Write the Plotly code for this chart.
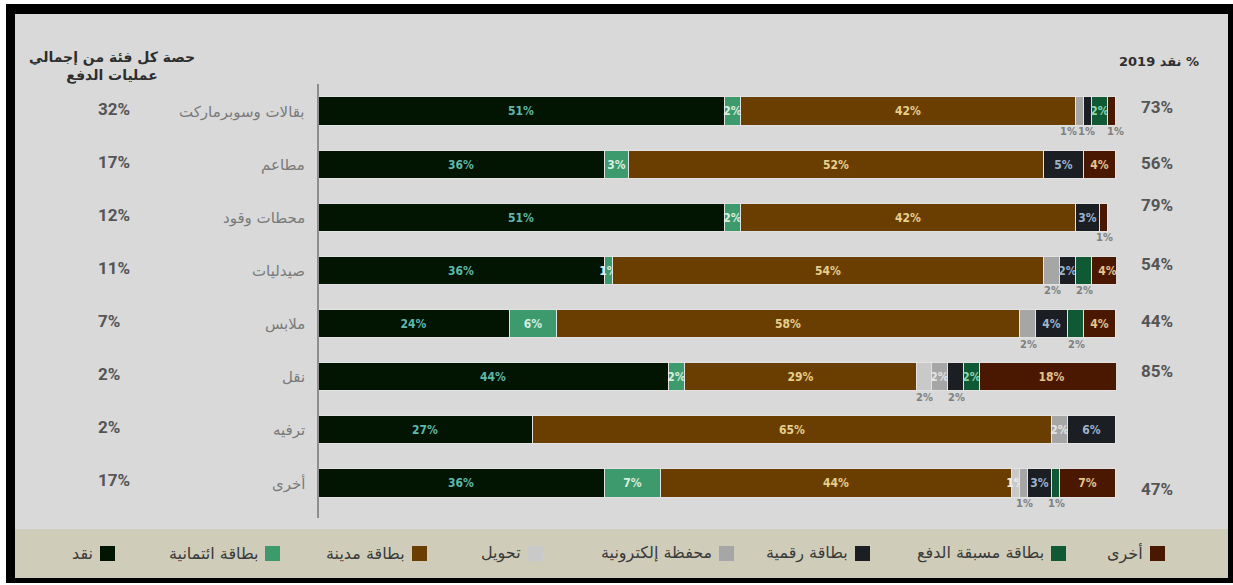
import plotly.graph_objects as go

# ---- data -------------------------------------------------------------
categories = ["بقالات وسوبرماركت", "مطاعم", "محطات وقود", "صيدليات",
              "ملابس", "نقل", "ترفيه", "أخرى"]
share_of_payments = [32, 17, 12, 11, 7, 2, 2, 17]
cash_share_2019 = [73, 56, 79, 54, 44, 85, None, 47]

series_names = ["نقد", "بطاقة ائتمانية", "بطاقة مدينة", "تحويل",
                "محفظة إلكترونية", "بطاقة رقمية", "بطاقة مسبقة الدفع", "أخرى"]
cash = [51, 36, 51, 36, 24, 44, 27, 36]
credit_card = [2, 3, 2, 1, 6, 2, 0, 7]
debit_card = [42, 52, 42, 54, 58, 29, 65, 44]
transfer = [0, 0, 0, 0, 0, 2, 0, 1]
e_wallet = [1, 0, 0, 2, 2, 2, 2, 1]
digital_card = [1, 5, 3, 2, 4, 2, 6, 3]
prepaid_card = [2, 0, 0, 2, 2, 2, 0, 1]
other = [1, 4, 1, 4, 4, 18, 0, 7]

series_values = [cash, credit_card, debit_card, transfer, e_wallet,
                 digital_card, prepaid_card, other]

# small segments whose value is written under the bar: (row, series index)
labels_below = [(0, 4), (0, 5), (0, 7), (2, 7), (3, 4), (3, 6),
                (4, 4), (4, 6), (5, 3), (5, 5), (7, 4), (7, 6)]

# ---- styling ----------------------------------------------------------
colors = ["#021402", "#3c9a6c", "#6a3e00", "#c9c9c9",
          "#a6a6a6", "#1b1e22", "#0f5a34", "#4a1700"]
text_colors = ["#5fb8aa", "#d6efe2", "#e6cf8e", "#eeeeee",
               "#e4e4e4", "#9fb4cc", "#8fd6aa", "#e6c48a"]
below_shift = {(0, 4): -12, (0, 5): -2, (0, 7): 3}
cash_label_shift = [5, 2, 13, 7, 3, 6, 0, -6]
legend_swatch_left = [100, 265, 412, 528, 719, 855, 1051, 1150]

W, H = 1233, 585
L, R, T, B = 318, 117, 85, 75
AR_FONT = "DejaVu Sans"
NUM_FONT = "DejaVu Sans Condensed, Roboto, sans-serif"


def px(x):
    return (x - L) / (W - L - R)


def py(y):
    return (H - B - y) / (H - T - B)


rows = list(range(len(categories)))
fig = go.Figure()

for k, (name, vals) in enumerate(zip(series_names, series_values)):
    texts = []
    for i, v in enumerate(vals):
        if v and (i, k) not in labels_below:
            texts.append(f"{v}%")
        else:
            texts.append("")
    fig.add_trace(go.Bar(
        name=name,
        x=[v if v else None for v in vals],
        y=rows,
        orientation="h",
        width=0.53,
        marker=dict(color=colors[k], line=dict(color="#e2e2e2", width=1)),
        text=texts,
        textposition="inside",
        insidetextanchor="middle",
        textangle=0,
        textfont=dict(color=text_colors[k], size=12, family=NUM_FONT,
                      weight="bold"),
        hoverinfo="skip",
        showlegend=False,
    ))

annotations = []

# values written under the thin segments
for (i, k) in labels_below:
    start = sum(series_values[j][i] for j in range(k))
    v = series_values[k][i]
    annotations.append(dict(
        x=start + v / 2, y=i, xref="x", yref="y",
        text=f"{v}%", showarrow=False, yshift=-20,
        xshift=below_shift.get((i, k), 0),
        font=dict(size=11, color="#808080", family=NUM_FONT, weight="bold"),
    ))

# category names, share of payments and cash share columns
for i, cat in enumerate(categories):
    annotations.append(dict(
        x=px(307), y=i, xref="paper", yref="y", xanchor="right",
        text=cat, showarrow=False,
        font=dict(size=15, color="#7a7a7a", family=AR_FONT),
    ))
    annotations.append(dict(
        x=px(96), y=i, xref="paper", yref="y", xanchor="left",
        text=f"<b>{share_of_payments[i]}%</b>", showarrow=False, yshift=3,
        font=dict(size=17, color="#555555", family="Roboto, sans-serif"),
    ))
    if cash_share_2019[i] is not None:
        annotations.append(dict(
            x=px(1139), y=i, xref="paper", yref="y", xanchor="left",
            text=f"<b>{cash_share_2019[i]}%</b>", showarrow=False,
            yshift=cash_label_shift[i],
            font=dict(size=17, color="#555555", family="Roboto, sans-serif"),
        ))

# column headers
annotations.append(dict(
    x=px(112), y=py(66), xref="paper", yref="paper", xanchor="center",
    yanchor="middle", align="center", showarrow=False,
    text="<b>حصة كل فئة من إجمالي<br>عمليات الدفع</b>",
    font=dict(size=14, color="#2e2e2e", family=AR_FONT),
))
annotations.append(dict(
    x=px(1201), y=py(61), xref="paper", yref="paper", xanchor="right",
    yanchor="middle", showarrow=False,
    text="<b>\u200f% نقد 2019</b>",
    font=dict(size=13, color="#2e2e2e", family=AR_FONT),
))

shapes = [
    # frame, panel and legend band
    dict(type="rect", xref="paper", yref="paper", layer="below",
         x0=px(6), x1=px(1233), y0=py(583), y1=py(4),
         fillcolor="#000000", line=dict(width=0)),
    dict(type="rect", xref="paper", yref="paper", layer="below",
         x0=px(15), x1=px(1228), y0=py(529), y1=py(14),
         fillcolor="#d9d9d9", line=dict(width=0)),
    dict(type="rect", xref="paper", yref="paper", layer="below",
         x0=px(15), x1=px(1228), y0=py(578), y1=py(529),
         fillcolor="#cfcdb9", line=dict(width=0)),
    # category axis line
    dict(type="line", xref="paper", yref="paper",
         x0=0, x1=0, y0=py(518), y1=py(84),
         line=dict(color="#8e8e8e", width=2)),
]

# legend drawn right-to-left style: label, then swatch on its right
for k, name in enumerate(series_names):
    left = legend_swatch_left[k]
    shapes.append(dict(
        type="rect", xref="paper", yref="paper",
        x0=px(left), x1=px(left + 15), y0=py(561), y1=py(546),
        fillcolor=colors[k], line=dict(width=0),
    ))
    annotations.append(dict(
        x=px(left - 5), y=py(553), xref="paper", yref="paper",
        xanchor="right", yanchor="middle", showarrow=False,
        text=name, font=dict(size=16, color="#3a3a3a", family=AR_FONT),
    ))

fig.update_layout(
    width=W, height=H,
    margin=dict(l=L, r=R, t=T, b=B, pad=0),
    paper_bgcolor="#ffffff",
    plot_bgcolor="rgba(0,0,0,0)",
    barmode="stack",
    bargap=0,
    uniformtext=dict(mode="show", minsize=12),
    xaxis=dict(range=[0, 100], visible=False, fixedrange=True),
    yaxis=dict(range=[7.5, -0.5], visible=False, fixedrange=True),
    annotations=annotations,
    shapes=shapes,
    showlegend=False,
)

fig.write_html("out.html", config={"displayModeBar": False})
